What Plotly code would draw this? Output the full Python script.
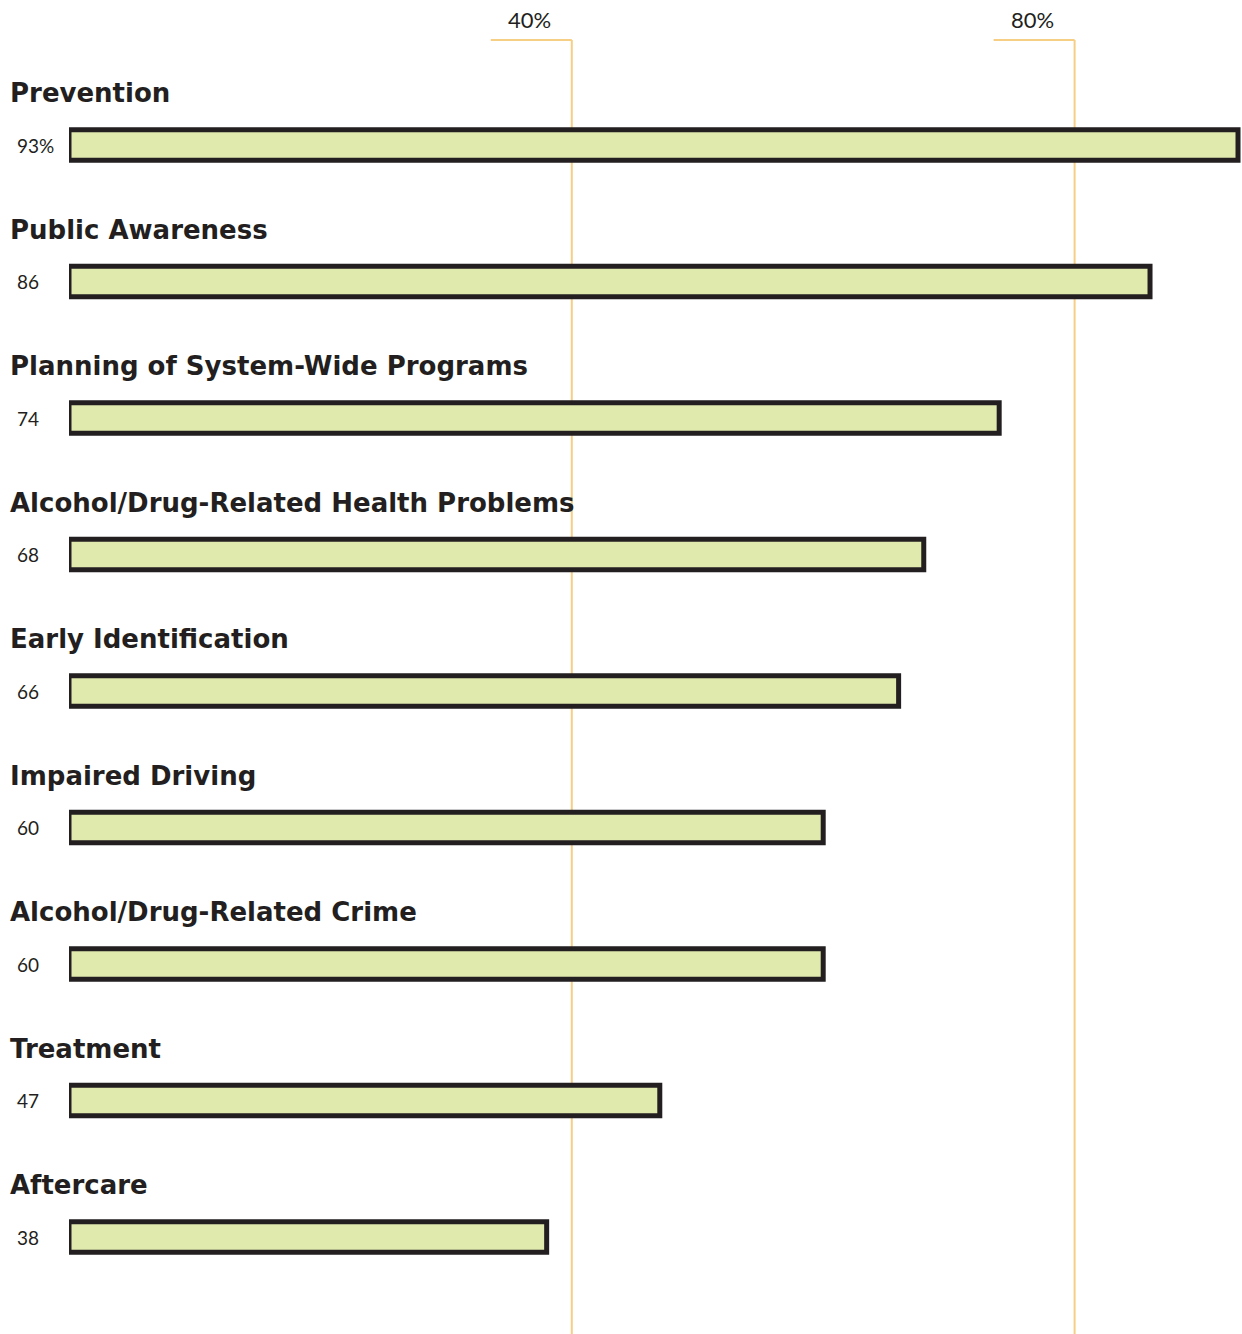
import plotly.graph_objects as go

categories = ["Prevention", "Public Awareness", "Planning of System-Wide Programs",
              "Alcohol/Drug-Related Health Problems", "Early Identification",
              "Impaired Driving", "Alcohol/Drug-Related Crime", "Treatment", "Aftercare"]
values = [93, 86, 74, 68, 66, 60, 60, 47, 38]
value_labels = ["93%", "86", "74", "68", "66", "60", "60", "47", "38"]
grid_values = [40, 80]
grid_labels = ["40%", "80%"]

W, H = 1242, 1334
L = 69
px_per_unit = 12.57
xmax = (W - L) / px_per_unit
step = 136.5
top_center = 145
ytop = -top_center / step
ybot = (len(categories) - 1) + (H - (top_center + step * (len(categories) - 1))) / step

DARK = "#231f20"
FILL = "#e1eaad"
ORANGE = "#f6cf85"

fig = go.Figure()
fig.add_trace(go.Bar(
    x=values, y=list(range(len(categories))), orientation="h",
    width=0.224,
    marker=dict(color=FILL, line=dict(color=DARK, width=5)),
    hoverinfo="skip",
))

shapes = []
annotations = []
for gv, gl in zip(grid_values, grid_labels):
    shapes.append(dict(type="line", xref="x", yref="paper", x0=gv, x1=gv,
                       y0=0, y1=(H - 40) / H, line=dict(color=ORANGE, width=2), layer="below"))
    shapes.append(dict(type="line", xref="x", yref="paper", xsizemode="pixel", xanchor=gv,
                       x0=-81, x1=0, y0=(H - 40) / H, y1=(H - 40) / H,
                       line=dict(color=ORANGE, width=2), layer="below"))
    annotations.append(dict(text=gl, xref="x", yref="paper", x=gv, xshift=-42,
                            y=(H - 20) / H, xanchor="center", yanchor="middle",
                            showarrow=False, font=dict(family="Lato", size=22, color=DARK)))

for i, (c, vl) in enumerate(zip(categories, value_labels)):
    annotations.append(dict(text=c, xref="paper", yref="y", x=(8 - L) / (W - L), y=i,
                            yshift=52, xanchor="left", yanchor="middle", showarrow=False,
                            font=dict(family="DejaVu Sans", size=26, color=DARK, weight="bold")))
    annotations.append(dict(text=vl, xref="paper", yref="y", x=(15 - L) / (W - L), y=i,
                            xanchor="left", yanchor="middle", showarrow=False,
                            font=dict(family="Lato", size=19, color=DARK)))

fig.update_layout(
    width=W, height=H,
    margin=dict(l=L, r=0, t=0, b=0),
    paper_bgcolor="white", plot_bgcolor="white",
    showlegend=False,
    xaxis=dict(range=[0, xmax], visible=False, fixedrange=True),
    yaxis=dict(range=[ybot, ytop], visible=False, fixedrange=True),
    shapes=shapes, annotations=annotations,
)
fig.write_html("out.html", config={"displayModeBar": False},
               post_script="document.body.style.margin='0';document.body.style.padding='0';")
